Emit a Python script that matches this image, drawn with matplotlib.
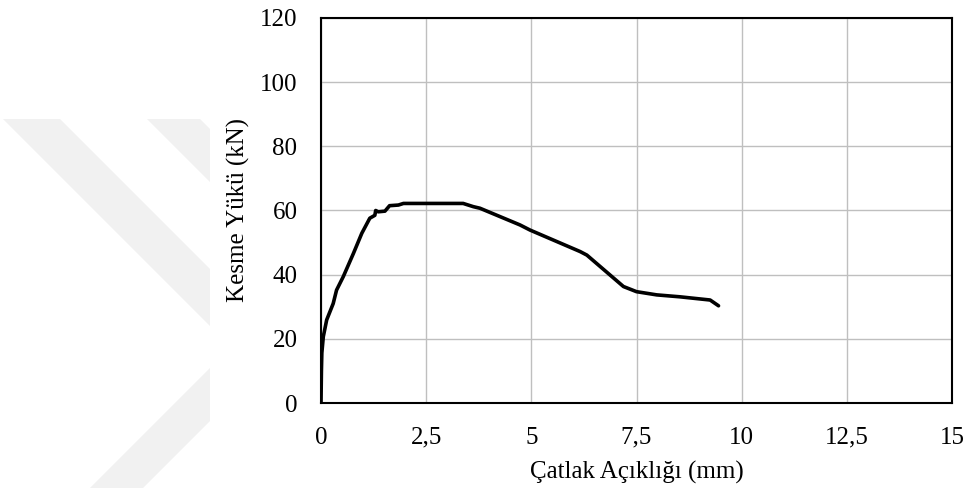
import matplotlib.pyplot as plt
from matplotlib.patches import Polygon

# Crack opening (mm) vs shear load (kN)
crack_mm = [0.0, 0.01, 0.02, 0.055, 0.135, 0.29, 0.37, 0.53, 0.77, 0.97, 1.16, 1.28,
            1.30, 1.36, 1.52, 1.63, 1.84, 1.96, 3.38, 3.62, 3.78, 4.73, 4.97, 6.16,
            6.32, 7.19, 7.50, 7.98, 8.53, 9.25, 9.45]
load_kn = [0.0, 10.0, 15.6, 20.7, 25.9, 31.0, 35.2, 39.4, 46.6, 52.9, 57.6, 58.5,
           60.0, 59.6, 59.8, 61.5, 61.7, 62.2, 62.2, 61.2, 60.7, 55.5, 53.9, 47.2,
           46.1, 36.3, 34.7, 33.7, 33.1, 32.1, 30.3]

x_ticks = [0, 2.5, 5, 7.5, 10, 12.5, 15]
x_tick_labels = ["0", "2,5", "5", "7,5", "10", "12,5", "15"]
y_ticks = [0, 20, 40, 60, 80, 100, 120]

plt.rcParams['font.family'] = ['Liberation Serif', 'DejaVu Serif']

fig = plt.figure(figsize=(9.67, 4.94), dpi=100)

# faint watermark on the left (pixel coords -> figure fraction)
W, H = 967, 494
wm_color = "#f1f1f1"
bands = [
    [(3, 119), (60, 119), (210, 269), (210, 326)],
    [(147, 119), (200, 119), (210, 129), (210, 182)],
    [(90, 488), (143, 488), (210, 421), (210, 368)],
]
for b in bands:
    pts = [(px / W, 1 - py / H) for px, py in b]
    fig.patches.append(Polygon(pts, closed=True, transform=fig.transFigure,
                               facecolor=wm_color, edgecolor="none", zorder=0))

ax = fig.add_axes([321 / W, 1 - 403 / H, (952 - 321) / W, (403 - 18) / H])
ax.plot(crack_mm, load_kn, color="black", linewidth=2.6, solid_joinstyle="round",
        solid_capstyle="round", zorder=3)

ax.set_xlim(0, 15)
ax.set_ylim(0, 120)
ax.set_xticks(x_ticks)
ax.set_xticklabels(x_tick_labels)
ax.set_yticks(y_ticks)
ax.tick_params(axis="both", length=0, labelsize=18, colors="black")
ax.tick_params(axis="x", pad=17)
ax.tick_params(axis="y", pad=17)
ax.grid(True, color="#bfbfbf", linewidth=1.0)
ax.set_axisbelow(True)
for s in ax.spines.values():
    s.set_color("black")
    s.set_linewidth(1.5)

ax.set_xlabel("Çatlak Açıklığı (mm)", fontsize=18)
ax.set_ylabel("Kesme Yükü (kN)", fontsize=18)
ax.xaxis.set_label_coords(0.5, -0.15)
ax.yaxis.set_label_coords(-0.113, 0.5)

plt.savefig("out.png", dpi=100)
